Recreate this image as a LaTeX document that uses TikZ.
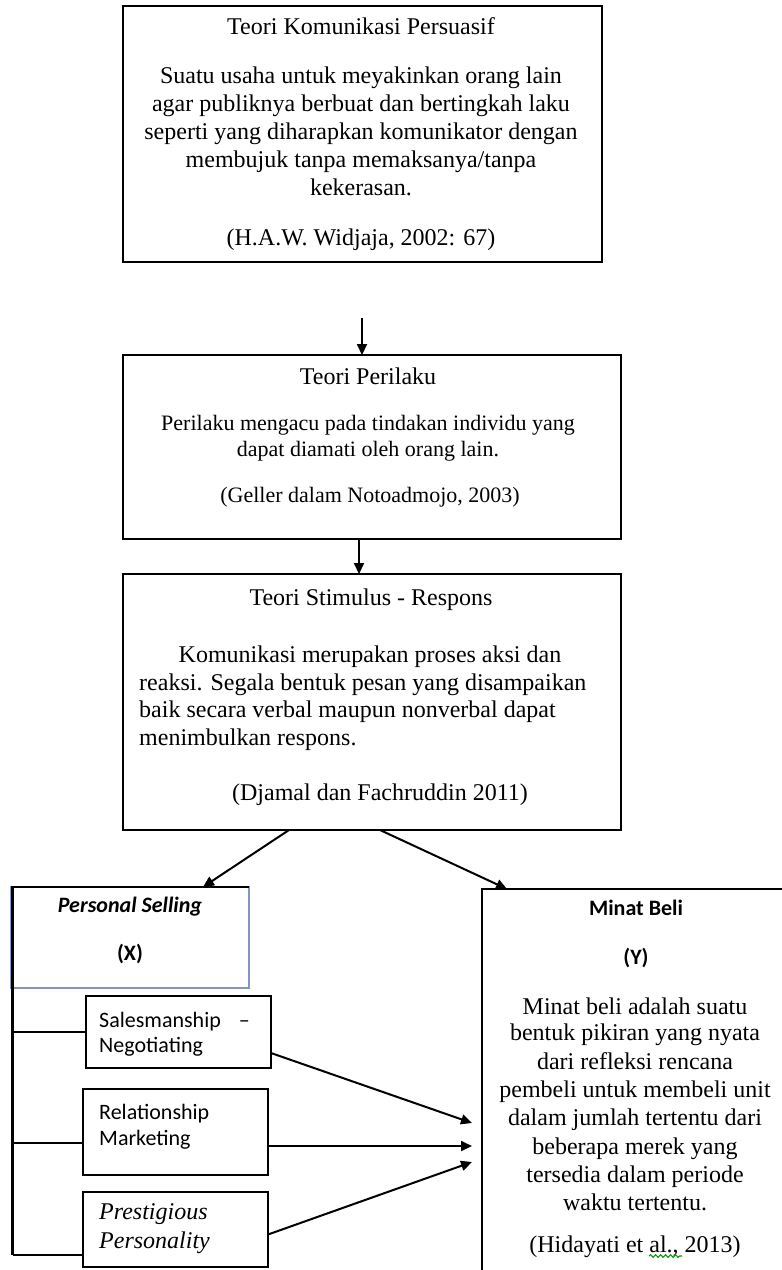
\documentclass[tikz,border=0pt]{standalone}
\usepackage{fontspec}
\setmainfont{Liberation Serif}
\newfontfamily\carl{Carlito}
\usetikzlibrary{arrows.meta,decorations.pathmorphing}
\definecolor{psblue}{HTML}{8196C4}
\begin{document}
\begin{tikzpicture}[x=1pt,y=-1pt,
  box/.style={draw=black,line width=2.3pt,anchor=north west,inner sep=0,outer sep=0},
  ser/.style={inner sep=0,anchor=base,font=\fontsize{24}{28}\selectfont},
  sersm/.style={inner sep=0,anchor=base,font=\fontsize{22}{26}\selectfont},
  serw/.style={inner sep=0,anchor=base west,font=\fontsize{24}{28}\selectfont},
  sans/.style={inner sep=0,anchor=base,font=\carl\fontsize{22}{26}\selectfont},
  sansw/.style={inner sep=0,anchor=base west,font=\carl\fontsize{22}{26}\selectfont},
  arr/.style={line width=2pt,-{Triangle[length=11pt,width=10pt]}},
  ln/.style={line width=2.1pt}]
\useasboundingbox (0,0) rectangle (782,1270);
\clip (0,0) rectangle (782,1270);
\fill[white] (0,0) rectangle (782,1270);

% ---- box 1
\node[box,minimum width=479pt,minimum height=256pt] (b1) at (123,6) {};
\node[ser] (b1h) at (361,34) {Teori Komunikasi Persuasif};
\node[ser] (b1l1) at (361,83) {Suatu usaha untuk meyakinkan orang lain};
\node[ser] (b1l2) at (361,111) {agar publiknya berbuat dan bertingkah laku};
\node[ser] (b1l3) at (361,139) {seperti yang diharapkan komunikator dengan};
\node[ser] (b1l4) at (361,167) {membujuk tanpa memaksanya/tanpa};
\node[ser] (b1l5) at (361,195) {kekerasan.};
\node[ser] (b1c) at (361,245) {(H.A.W. Widjaja, 2002: 67)};

% ---- box 2
\coordinate (a1s) at (362,318);
\node[box,minimum width=498pt,minimum height=184pt] (b2) at (123,355) {};
\node[ser] (b2h) at (368,384) {Teori Perilaku};
\node[sersm] (b2l1) at (368,430) {Perilaku mengacu pada tindakan individu yang};
\node[sersm] (b2l2) at (368,456) {dapat diamati oleh orang lain.};
\node[sersm] (b2c) at (370,502) {(Geller dalam Notoadmojo, 2003)};

% ---- box 3
\node[box,minimum width=498pt,minimum height=256pt] (b3) at (123,574) {};
\node[ser] (b3h) at (371,605) {Teori Stimulus - Respons};
\node[ser] (b3l1) at (370,662) {Komunikasi merupakan proses aksi dan};
\node[serw] (b3l2) at (139,690) {reaksi. Segala bentuk pesan yang disampaikan};
\node[serw] (b3l3) at (139,717) {baik secara verbal maupun nonverbal dapat};
\node[serw] (b3l4) at (139,745) {menimbulkan respons.};
\node[ser] (b3c) at (380,800) {(Djamal dan Fachruddin 2011)};

% ---- Personal Selling
\node[draw=psblue,line width=1.8pt,anchor=north west,inner sep=0,outer sep=0,
      minimum width=238pt,minimum height=101pt] (ps) at (11,887) {};
\node[sans,font=\carl\bfseries\itshape\fontsize{22}{26}\selectfont] (psh) at (130,912) {Personal Selling};
\node[sans,font=\carl\bfseries\fontsize{22}{26}\selectfont] (psx) at (130,960) {(X)};

% ---- sub boxes
\node[box,minimum width=185pt,minimum height=72pt] (s1) at (86,996) {};
\node[sansw] (s1a) at (99,1027) {Salesmanship\hspace{18pt}–};
\node[sansw] (s1b) at (99,1052) {Negotiating};
\node[box,minimum width=185pt,minimum height=86pt] (s2) at (83,1089) {};
\node[sansw] (s2a) at (99,1119) {Relationship};
\node[sansw] (s2b) at (99,1145) {Marketing};
\node[box,minimum width=185pt,minimum height=75pt] (s3) at (83,1192) {};
\node[serw,font=\itshape\fontsize{24}{28}\selectfont] (s3a) at (99,1219) {Prestigious};
\node[serw,font=\itshape\fontsize{24}{28}\selectfont] (s3b) at (99,1248) {Personality};

% ---- Minat Beli
\node[box,minimum width=330pt,minimum height=420pt] (mb) at (482,889) {};
\node[sans,font=\carl\bfseries\fontsize{22}{26}\selectfont] (mbh) at (636,915) {Minat Beli};
\node[sans,font=\carl\bfseries\fontsize{22}{26}\selectfont] (mby) at (636,964) {(Y)};
\node[ser] (m1) at (635,1014) {Minat beli adalah suatu};
\node[ser] (m2) at (635,1040) {bentuk pikiran yang nyata};
\node[ser] (m3) at (635,1069) {dari refleksi rencana};
\node[ser] (m4) at (635,1097) {pembeli untuk membeli unit};
\node[ser] (m5) at (635,1125) {dalam jumlah tertentu dari};
\node[ser] (m6) at (635,1154) {beberapa merek yang};
\node[ser] (m7) at (635,1182) {tersedia dalam periode};
\node[ser] (m8) at (635,1210) {waktu tertentu.};
\node[ser] (mc) at (635,1252) {(Hidayati et al., 2013)};
\draw[green!60!black,line width=1.1pt,decorate,decoration={snake,amplitude=1.3pt,segment length=5pt}]
  (649,1256) -- (682,1256);

% ---- vertical arrows
\draw[arr] (a1s) -- (a1s |- b2.north);
\draw[arr] ([xshift=-13pt]b2.south) -- ([xshift=-13pt]b3.north);
\draw[arr] ([xshift=-83pt]b3.south) -- ([xshift=73pt]ps.north);
\draw[arr] ([xshift=8pt]b3.south) -- ([xshift=25pt]mb.north west);

% ---- tree
\coordinate (tb) at (12.5,1255);
\draw[ln] (ps.north west) -- ([xshift=1.5pt]ps.north west) -- (ps.north east);
\draw[ln] ([xshift=1.5pt]ps.north west) -- (tb);
\draw[ln] (tb) -- (tb -| s3.west);
\draw[ln] (s1.west -| tb) -- (s1.west);
\draw[ln] ([yshift=-11pt]s2.west -| tb) -- ([yshift=-11pt]s2.west);

% ---- arrows into Minat Beli
\coordinate (t1) at (472,1123);
\coordinate (t2) at (472,1146);
\coordinate (t3) at (472,1162);
\draw[arr] ([yshift=-21pt]s1.east) -- (t1);
\draw[arr] (s2.east |- t2) -- (t2);
\draw[arr] ([yshift=-5pt]s3.east) -- (t3);
\end{tikzpicture}
\end{document}
